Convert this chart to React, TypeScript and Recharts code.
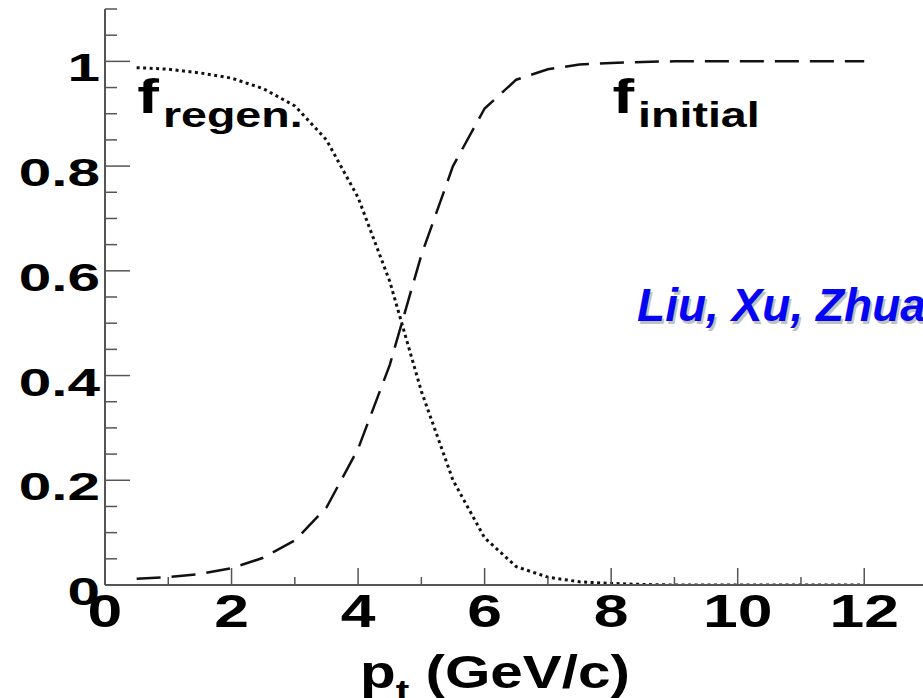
import { LineChart, Line, XAxis, YAxis, ReferenceDot } from 'recharts';

// transverse momentum samples (GeV/c)
const pt = [0.5, 1, 1.5, 2, 2.5, 3, 3.5, 4, 4.5, 5, 5.5, 6, 6.5, 7, 7.5, 8, 8.5, 9, 9.5, 10, 10.5, 11, 11.5, 12];
// fraction from initial production (long dashes)
const fInitial = [0.012, 0.015, 0.021, 0.032, 0.052, 0.085, 0.148, 0.26, 0.42, 0.63, 0.8, 0.91, 0.965, 0.985, 0.994, 0.997, 0.999, 1, 1, 1, 1, 1, 1, 1];
// fraction from regeneration (dotted)
const fRegen = [0.988, 0.985, 0.978, 0.968, 0.948, 0.915, 0.85, 0.74, 0.58, 0.37, 0.2, 0.09, 0.035, 0.015, 0.006, 0.003, 0.001, 0, 0, 0, 0, 0, 0, 0];

const xTicks = [0, 1, 2, 3, 4, 5, 6, 7, 8, 9, 10, 11, 12, 13];
const xMajor = [0, 2, 4, 6, 8, 10, 12];
const yTicks = [0, 0.05, 0.1, 0.15, 0.2, 0.25, 0.3, 0.35, 0.4, 0.45, 0.5, 0.55, 0.6, 0.65, 0.7, 0.75, 0.8, 0.85, 0.9, 0.95, 1, 1.05, 1.1];
const yMajor = [0, 0.2, 0.4, 0.6, 0.8, 1];
const yLabels = ['0', '0.2', '0.4', '0.6', '0.8', '1'];

const rows = pt.map((x, i) => ({ x, initial: fInitial[i], regen: fRegen[i] }));

const AXIS = '#555';
const FONT = '"Liberation Sans", Arial, Helvetica, sans-serif';

const isMajorX = (v: number) => xMajor.includes(v);
const majorYIndex = (v: number) => yMajor.findIndex(m => Math.abs(m - v) < 1e-6);

const BottomTick = ({ x, y, payload }: any) => {
  const major = isMajorX(payload.value);
  return (
    <g>
      <line x1={x} x2={x} y1={y} y2={y - (major ? 17 : 8)} stroke={AXIS} strokeWidth={1.5} />
      {major && (
        <text transform={`translate(${x},${y + 42}) scale(1.33,1)`} textAnchor="middle"
          fontFamily={FONT} fontWeight="bold" fontSize={47} fill="#000">
          {payload.value}
        </text>
      )}
    </g>
  );
};

const TopTick = ({ x, y, payload }: any) => {
  const major = isMajorX(payload.value);
  return <line x1={x} x2={x} y1={y} y2={y + (major ? 17 : 8)} stroke={AXIS} strokeWidth={1.5} />;
};

const LeftTick = ({ x, y, payload }: any) => {
  const idx = majorYIndex(payload.value);
  const major = idx >= 0;
  return (
    <g>
      <line x1={x} x2={x + (major ? 25 : 12)} y1={y} y2={y} stroke={AXIS} strokeWidth={1.5} />
      {major && (
        <text transform={`translate(${x - 5},${y + 20}) scale(1.5,1)`} textAnchor="end"
          fontFamily={FONT} fontWeight="bold" fontSize={39} fill="#000">
          {yLabels[idx]}
        </text>
      )}
    </g>
  );
};

const RightTick = ({ x, y, payload }: any) => {
  const major = majorYIndex(payload.value) >= 0;
  return <line x1={x} x2={x - (major ? 25 : 12)} y1={y} y2={y} stroke={AXIS} strokeWidth={1.5} />;
};

const FLabel = (sub: string) => ({ cx, cy }: any) => (
  <text transform={`translate(${cx},${cy}) scale(1.33,1)`} fontFamily={FONT} fontWeight="bold" fill="#000">
    <tspan fontSize={49}>f</tspan>
    <tspan fontSize={35} dx={3} dy={14}>{sub}</tspan>
  </text>
);

const AuthorLabel = ({ cx, cy }: any) => (
  <g fontFamily={FONT} fontWeight="bold" fontStyle="italic" fontSize={46}>
    <text x={cx + 2} y={cy + 3} fill="#999" opacity={0.6}>Liu, Xu, Zhuang</text>
    <text x={cx} y={cy} fill="#0505f5">Liu, Xu, Zhuang</text>
  </g>
);

const AxisTitle = ({ viewBox }: any) => {
  const { x, y } = viewBox;
  return (
    <text transform={`translate(${x + 255},${y + 103}) scale(1.27,1)`} fontFamily={FONT} fontWeight="bold" fill="#000">
      <tspan fontSize={46}>p</tspan>
      <tspan fontSize={32} dy={14}>t</tspan>
      <tspan fontSize={46} dy={-14}> (GeV/c)</tspan>
    </text>
  );
};

export default function App() {
  return (
    <div style={{ position: 'fixed', left: 0, top: 0, width: 923, height: 698, overflow: 'hidden', background: '#fff' }}>
      <LineChart width={960} height={698} data={rows} margin={{ top: 9, right: 23, bottom: 0, left: 0 }}>
        <XAxis xAxisId="bottom" dataKey="x" type="number" domain={[0, 13.15]} ticks={xTicks} interval={0}
          allowDataOverflow height={113} tickSize={0} tickMargin={0} tickLine={false}
          axisLine={{ stroke: AXIS, strokeWidth: 2 }} tick={<BottomTick />} label={{ content: <AxisTitle /> }} />
        <XAxis xAxisId="top" orientation="top" dataKey="x" type="number" domain={[0, 13.15]} ticks={xTicks}
          interval={0} allowDataOverflow height={0} tickSize={0} tickMargin={0} tickLine={false}
          axisLine={{ stroke: AXIS, strokeWidth: 2 }} tick={<TopTick />} />
        <YAxis yAxisId="left" type="number" domain={[0, 1.1]} ticks={yTicks} interval={0} allowDataOverflow
          width={105} tickSize={0} tickMargin={0} tickLine={false}
          axisLine={{ stroke: AXIS, strokeWidth: 2 }} tick={<LeftTick />} />
        <YAxis yAxisId="right" orientation="right" type="number" domain={[0, 1.1]} ticks={yTicks} interval={0}
          allowDataOverflow width={0} tickSize={0} tickMargin={0} tickLine={false}
          axisLine={{ stroke: AXIS, strokeWidth: 2 }} tick={<RightTick />} />
        <Line xAxisId="bottom" yAxisId="left" type="linear" dataKey="regen" stroke="#111" strokeWidth={3}
          strokeDasharray="3 3.5" dot={false} activeDot={false} isAnimationActive={false} />
        <Line xAxisId="bottom" yAxisId="left" type="linear" dataKey="initial" stroke="#111" strokeWidth={2.5}
          strokeDasharray="24 11" dot={false} activeDot={false} isAnimationActive={false} />
        <ReferenceDot xAxisId="bottom" yAxisId="left" x={0.51} y={0.902} r={0} shape={FLabel('regen.')} />
        <ReferenceDot xAxisId="bottom" yAxisId="left" x={8.02} y={0.902} r={0} shape={FLabel('initial')} />
        <ReferenceDot xAxisId="bottom" yAxisId="left" x={8.41} y={0.505} r={0} shape={<AuthorLabel />} />
      </LineChart>
    </div>
  );
}
